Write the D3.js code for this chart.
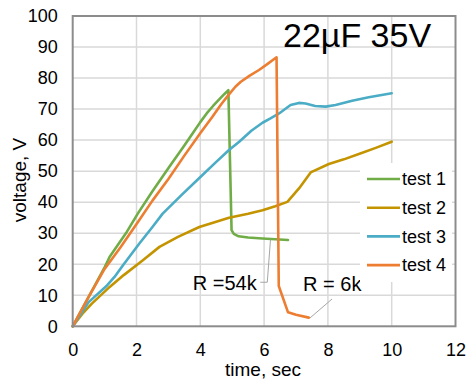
<!DOCTYPE html>
<html><head><meta charset="utf-8">
<script src="https://cdn.jsdelivr.net/npm/d3@7"></script>
<style>body{margin:0;background:#fff;font-family:"Liberation Sans",Arial,sans-serif;}</style>
</head><body>
<svg id="c" width="467" height="380"></svg>
<script>
const seriesNames = ["test 1","test 2","test 3","test 4"];
const seriesColors = ["#70AD47","#C49400","#4BACC6","#ED7D31"];
const test1 = [[0,0],[0.5,9.5],[1.0,19],[1.16,22.4],[1.3,24.5],[1.7,30.5],[2.04,36.3],[2.5,43.5],[3.03,51.4],[3.5,58.3],[3.8,62.8],[4.0,65.8],[4.2,68.6],[4.4,71],[4.6,73.2],[4.75,74.8],[4.88,76.1],[4.98,31],[5.05,29.8],[5.2,29],[5.5,28.6],[5.95,28.3],[6.75,27.8]];
const test2 = [[0,0],[0.3,4],[0.6,7.3],[1.16,12.7],[1.6,16.5],[2.2,21.3],[2.72,25.6],[3.3,28.8],[3.97,32],[4.6,34],[4.9,35],[5.5,36.3],[5.95,37.4],[6.35,38.7],[6.73,40.1],[7.1,44.5],[7.46,49.6],[8.03,52.3],[8.5,53.8],[8.97,55.5],[9.5,57.5],[10.0,59.5]];
const test3 = [[0,0],[0.5,7.8],[1.05,12.9],[1.31,15.9],[1.6,20],[2.09,26.7],[2.5,32],[2.82,36.3],[3.4,42.2],[3.97,47.8],[4.5,53],[4.9,56.8],[5.22,59.5],[5.6,63],[5.95,65.6],[6.2,67],[6.47,68.6],[6.83,71.3],[7.09,72],[7.3,71.8],[7.6,71],[7.93,70.8],[8.24,71.3],[8.76,72.7],[9.28,73.8],[10.0,75.1]];
const test4 = [[0,0],[0.5,9.5],[1.0,18.5],[1.5,25.5],[2.04,33.5],[2.5,40.5],[3.0,47.5],[3.5,55],[4.02,62.5],[4.38,67.5],[4.65,71.5],[4.88,74.5],[5.1,77.2],[5.27,78.8],[5.55,80.8],[5.84,82.6],[6.1,84.5],[6.39,86.7],[6.46,13],[6.75,4.5],[7.0,3.7],[7.4,2.8]];
const xTicks = [0,2,4,6,8,10,12];
const yTicks = [0,10,20,30,40,50,60,70,80,90,100];
const titleText = "22\u00b5F 35V";
const xTitle = "time, sec";
const yTitle = "voltage, V";
const annotations = [
  {text:"R =54k", x:5.77, y:11.6, anchor:"end", leader:[[5.88,14.2],[6.1,14.2],[6.2,27.9]]},
  {text:"R = 6k", x:7.22, y:11.3, anchor:"start", leader:[[8.13,8.8],[7.44,2.7]]}
];

const svg = d3.select("#c");
const x = d3.scaleLinear().domain([0,12]).range([72.7,455.5]);
const y = d3.scaleLinear().domain([0,100]).range([326.3,16]);
const font = '"Liberation Sans",Arial,sans-serif';

svg.append("g").selectAll("line").data(xTicks.slice(1,-1)).join("line")
  .attr("x1",d=>x(d)).attr("x2",d=>x(d)).attr("y1",y(0)).attr("y2",y(100))
  .attr("stroke","#D9D9D9").attr("stroke-width",1.5);
svg.append("g").selectAll("line").data(yTicks.slice(1,-1)).join("line")
  .attr("x1",x(0)).attr("x2",x(12)).attr("y1",d=>y(d)).attr("y2",d=>y(d))
  .attr("stroke","#D9D9D9").attr("stroke-width",1.5);

const xAxis = d3.axisBottom(x).tickValues(xTicks).tickSize(0).tickPadding(17);
const gx = svg.append("g").attr("transform",`translate(0,${y(0)})`).call(xAxis);
gx.select(".domain").remove();
gx.selectAll("text").attr("font-family",font).attr("font-size",18).attr("fill","#000");
const yAxis = d3.axisLeft(y).tickValues(yTicks).tickSize(0).tickPadding(15);
const gy = svg.append("g").attr("transform",`translate(${x(0)},0)`).call(yAxis);
gy.select(".domain").remove();
gy.selectAll("text").attr("font-family",font).attr("font-size",18).attr("fill","#000");

const data = [test1,test2,test3,test4];
const line = d3.line().x(d=>x(d[0])).y(d=>y(d[1]));
svg.append("g").selectAll("path").data(data).join("path")
  .attr("d",line).attr("fill","none")
  .attr("stroke",(d,i)=>seriesColors[i]).attr("stroke-width",2.6)
  .attr("stroke-linejoin","round").attr("stroke-linecap","round");

svg.append("rect").attr("x",x(0)).attr("y",y(100)).attr("width",x(12)-x(0)).attr("height",y(0)-y(100))
  .attr("fill","none").attr("stroke","#8C8C8C").attr("stroke-width",2);

annotations.forEach(a=>{
  svg.append("path").attr("d",d3.line().x(d=>x(d[0])).y(d=>y(d[1]))(a.leader))
    .attr("fill","none").attr("stroke","#A6A6A6").attr("stroke-width",1);
  svg.append("text").attr("x",x(a.x)).attr("y",y(a.y)).attr("text-anchor",a.anchor)
    .attr("font-family",font).attr("font-size",20).text(a.text);
});

const lg = svg.append("g");
lg.append("rect").attr("x",360).attr("y",163).attr("width",92).attr("height",119).attr("fill","#fff");
seriesNames.forEach((n,i)=>{
  const cy = 179 + i*28.7;
  lg.append("line").attr("x1",367).attr("x2",400).attr("y1",cy).attr("y2",cy)
    .attr("stroke",seriesColors[i]).attr("stroke-width",2.6);
  lg.append("text").attr("x",402).attr("y",cy).attr("dy","0.35em")
    .attr("font-family",font).attr("font-size",18).text(n);
});

svg.append("text").attr("x",283).attr("y",47).attr("font-family",font).attr("font-size",34).text(titleText);

svg.append("text").attr("x",263).attr("y",376).attr("text-anchor","middle")
  .attr("font-family",font).attr("font-size",19).text(xTitle);
svg.append("text").attr("transform","translate(26,180) rotate(-90)").attr("text-anchor","middle")
  .attr("font-family",font).attr("font-size",19).text(yTitle);
</script>
</body></html>
